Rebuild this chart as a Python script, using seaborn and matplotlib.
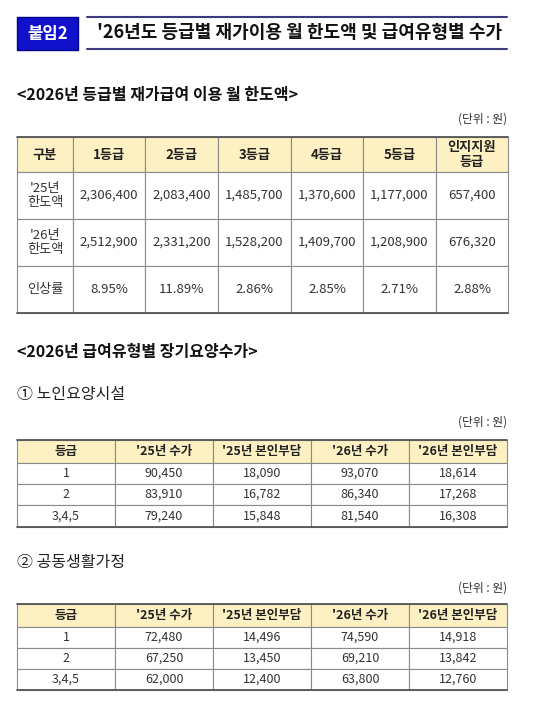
import matplotlib
matplotlib.use("Agg")
import matplotlib.pyplot as plt
import seaborn as sns
from matplotlib.patches import Rectangle

sns.set_theme(style="white")
plt.rcParams["font.family"] = ["Noto Sans CJK KR", "DejaVu Sans"]

# data
t1_header = ["구분", "1등급", "2등급", "3등급", "4등급", "5등급", "인지지원\n등급"]
t1_rows = [
    ["'25년\n한도액", "2,306,400", "2,083,400", "1,485,700", "1,370,600", "1,177,000", "657,400"],
    ["'26년\n한도액", "2,512,900", "2,331,200", "1,528,200", "1,409,700", "1,208,900", "676,320"],
    ["인상률", "8.95%", "11.89%", "2.86%", "2.85%", "2.71%", "2.88%"],
]
fee_header = ["등급", "'25년 수가", "'25년 본인부담", "'26년 수가", "'26년 본인부담"]
grades = ["1", "2", "3,4,5"]
nursing_fee25 = ["90,450", "83,910", "79,240"]
nursing_copay25 = ["18,090", "16,782", "15,848"]
nursing_fee26 = ["93,070", "86,340", "81,540"]
nursing_copay26 = ["18,614", "17,268", "16,308"]
group_fee25 = ["72,480", "67,250", "62,000"]
group_copay25 = ["14,496", "13,450", "12,400"]
group_fee26 = ["74,590", "69,210", "63,800"]
group_copay26 = ["14,918", "13,842", "12,760"]

W, H = 542, 709
fig = plt.figure(figsize=(W / 100, H / 100), dpi=100)
ax = fig.add_axes([0, 0, 1, 1])
ax.set_xlim(0, W)
ax.set_ylim(H, 0)
ax.axis("off")

HEAD = "#fdf0c2"
LINE = "#8a8a8a"
TXT = "#333333"


def draw_table(xs, ys, rows, fontsize=9.5, bold_header=True):
    for r, row in enumerate(rows):
        for c, val in enumerate(row):
            x0, x1 = xs[c], xs[c + 1]
            y0, y1 = ys[r], ys[r + 1]
            ax.add_patch(Rectangle((x0, y0), x1 - x0, y1 - y0,
                                   facecolor=HEAD if r == 0 else "white",
                                   edgecolor=LINE, lw=0.8))
            ax.text((x0 + x1) / 2, (y0 + y1) / 2, val, ha="center", va="center",
                    fontsize=fontsize, color="#222" if r == 0 else TXT,
                    fontweight="bold" if (r == 0 and bold_header) else "normal",
                    linespacing=1.1)
    ax.plot([xs[0], xs[-1]], [ys[0], ys[0]], color="#555", lw=1.3)
    ax.plot([xs[0], xs[-1]], [ys[-1], ys[-1]], color="#555", lw=1.3)


# header box
ax.add_patch(Rectangle((17, 17), 61, 33, facecolor="#1111cc", edgecolor="#000088", lw=1))
ax.text(47.5, 34, "붙임2", color="white", fontsize=12, fontweight="bold", ha="center", va="center")
ax.plot([87, 507], [17, 17], color="#3c3c7a", lw=1.5)
ax.plot([87, 507], [49, 49], color="#3c3c7a", lw=1.5)
ax.text(97, 33, "'26년도 등급별 재가이용 월 한도액 및 급여유형별 수가", fontsize=13,
        fontweight="bold", ha="left", va="center", color="#111")

ax.text(17, 95, "<2026년 등급별 재가급여 이용 월 한도액>", fontsize=11.5, fontweight="bold",
        ha="left", va="center", color="#111")
ax.text(507, 119, "(단위 : 원)", fontsize=8.5, ha="right", va="center", color=TXT)
draw_table([17, 73, 145, 218, 291, 363, 436, 508], [137, 172, 219, 266, 313],
           [t1_header] + t1_rows)

ax.text(17, 352, "<2026년 급여유형별 장기요양수가>", fontsize=11.5, fontweight="bold",
        ha="left", va="center", color="#111")

# nursing facility
ax.text(17, 395, "① 노인요양시설", fontsize=11.5, ha="left", va="center", color="#222")
ax.text(507, 422, "(단위 : 원)", fontsize=8.5, ha="right", va="center", color=TXT)
rows2 = [fee_header] + [list(r) for r in zip(grades, nursing_fee25, nursing_copay25,
                                             nursing_fee26, nursing_copay26)]
draw_table([17, 115, 213, 311, 409, 507], [440, 463, 484, 505, 527], rows2, fontsize=9)

# group home
ax.text(17, 562, "② 공동생활가정", fontsize=11.5, ha="left", va="center", color="#222")
ax.text(507, 588, "(단위 : 원)", fontsize=8.5, ha="right", va="center", color=TXT)
rows3 = [fee_header] + [list(r) for r in zip(grades, group_fee25, group_copay25,
                                             group_fee26, group_copay26)]
draw_table([17, 115, 213, 311, 409, 507], [604, 627, 648, 669, 690], rows3, fontsize=9)

fig.savefig("out.png", dpi=100)
